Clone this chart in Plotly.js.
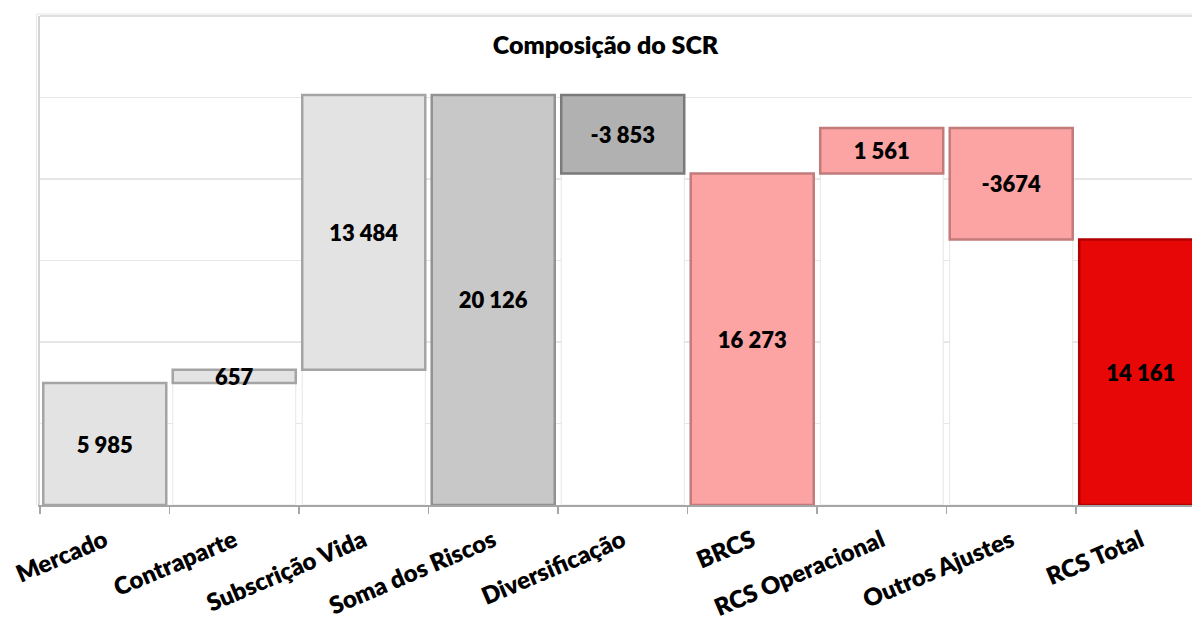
<!DOCTYPE html>
<html>
<head>
<meta charset="utf-8">
<script src="https://cdn.plot.ly/plotly-3.0.1.min.js"></script>
<style>html,body{margin:0;padding:0;background:#fff;}#chart{width:1192px;height:621px;}</style>
</head>
<body>
<div id="chart"></div>
<script>
// ---- data ----
const categories = ['Mercado', 'Contraparte', 'Subscrição Vida', 'Soma dos Riscos', 'Diversificação', 'BRCS', 'RCS Operacional', 'Outros Ajustes', 'RCS Total'];
const measures = ['relative', 'relative', 'relative', 'total', 'relative', 'total', 'relative', 'relative', 'total'];
// bar sizes as drawn in the picture
const barValues = [5985, 657, 13484, 20126, -3853, 16273, 2236, -5480, 13030];
// value labels as printed on the bars
const valueLabels = ['5 985', '657', '13 484', '20 126', '-3 853', '16 273', '1 561', '-3674', '14 161'];
const chartTitle = 'Composição do SCR';

// ---- styles ----
const barColors = ['#e3e3e3', '#e3e3e3', '#e3e3e3', '#c8c8c8', '#b1b1b1', '#fca3a3', '#fca3a3', '#fca3a3', '#e80707'];
const edgeColors = ['#a4a4a4', '#a4a4a4', '#a4a4a4', '#929292', '#7a7a7a', '#c27b7b', '#c27b7b', '#c27b7b', '#b00000'];

// waterfall geometry from the data
const bases = [], heights = [], hidden = [];
let running = 0;
for (let i = 0; i < categories.length; i++) {
  const v = barValues[i];
  if (measures[i] === 'total') {
    bases.push(0); heights.push(v); hidden.push(0); running = v;
  } else {
    const start = running, end = running + v;
    const lo = Math.min(start, end);
    bases.push(lo); heights.push(Math.abs(v)); hidden.push(lo); running = end;
  }
}

const font = 'Lato, "Open Sans", sans-serif';

const hiddenTrace = {
  type: 'bar', x: categories, y: hidden, base: 0,
  marker: {color: '#ffffff', line: {color: '#e6e6e6', width: 1}},
  hoverinfo: 'skip', showlegend: false
};
const mainTrace = {
  type: 'bar', x: categories, y: heights, base: bases,
  marker: {color: barColors, line: {color: edgeColors, width: 2.5}},
  text: valueLabels, textposition: 'inside', insidetextanchor: 'middle',
  textangle: 0, constraintext: 'none',
  textfont: {family: font, size: 22, color: '#000000', weight: 800},
  hoverinfo: 'skip', showlegend: false
};

const layout = {
  width: 1192, height: 621,
  paper_bgcolor: '#ffffff', plot_bgcolor: '#ffffff',
  margin: {l: 40, r: 0, t: 16, b: 116},
  barmode: 'overlay', bargap: 0.05,
  title: {text: chartTitle, font: {family: font, size: 25, color: '#000', weight: 800},
          x: 0.508, xref: 'container', xanchor: 'center', y: 0.927, yref: 'container', yanchor: 'middle'},
  xaxis: {
    type: 'category', range: [-0.5, 8.396], fixedrange: true,
    tickson: 'boundaries', ticks: 'outside', ticklen: 7, tickcolor: '#a6a6a6', tickwidth: 1.5,
    showline: true, linecolor: '#a6a6a6', linewidth: 1.5,
    tickangle: -23, ticklabelstandoff: 11,
    tickfont: {family: font, size: 24, color: '#000', weight: 800},
    showgrid: false
  },
  yaxis: {
    range: [0, 24000], dtick: 4000, showticklabels: false, ticks: '',
    showgrid: true, gridcolor: '#e6e6e6', gridwidth: 1.5, zeroline: false,
    showline: true, linecolor: '#d4d4d4', linewidth: 2, fixedrange: true
  },
  shapes: [
    {type: 'line', xref: 'paper', yref: 'paper', x0: 0, x1: 1, y0: 1, y1: 1, line: {color: '#e0e0e0', width: 2}},
    {type: 'line', xref: 'paper', yref: 'paper', x0: -0.003, x1: -0.003, y0: 0, y1: 1.004, line: {color: '#e6e6e6', width: 1}},
    {type: 'line', xref: 'paper', yref: 'paper', x0: -0.003, x1: 1, y0: 1.004, y1: 1.004, line: {color: '#e6e6e6', width: 1}}
  ]
};

Plotly.newPlot('chart', [hiddenTrace, mainTrace], layout, {staticPlot: true, displayModeBar: false});
</script>
</body>
</html>
